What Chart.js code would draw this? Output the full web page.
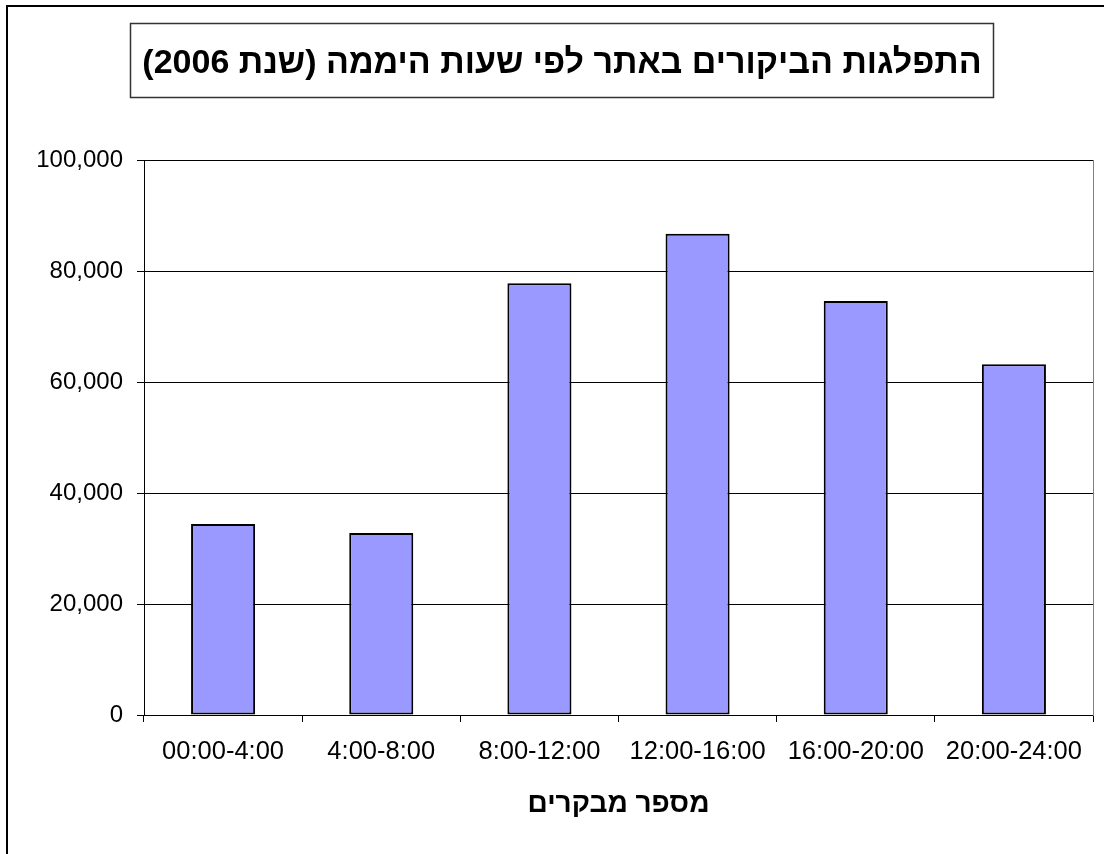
<!DOCTYPE html>
<html>
<head>
<meta charset="utf-8">
<script src="https://cdn.jsdelivr.net/npm/chart.js@4"></script>
<style>
  html, body { margin: 0; padding: 0; background: #fff; }
  canvas { display: block; }
</style>
</head>
<body>
<canvas id="myChart" width="1104" height="854" dir="rtl"></canvas>
<script>
const titleText = 'התפלגות הביקורים באתר לפי שעות היממה (שנת 2006)';
const axisTitle = 'מספר מבקרים';
const hours = ['00:00-4:00', '4:00-8:00', '8:00-12:00', '12:00-16:00', '16:00-20:00', '20:00-24:00'];
const visitors = [34400, 32800, 77800, 86700, 74600, 63200];
const yTicks = [0, 20000, 40000, 60000, 80000, 100000];

const fam = '"Liberation Sans", Arial, sans-serif';
const titleFont = { family: fam, size: 34, weight: 'bold' };

// outer frame + box round the title
const framePlugin = {
  id: 'frame',
  afterDraw(chart) {
    const c = chart.ctx;
    const t = chart.titleBlock;
    c.save();
    c.strokeStyle = '#000';
    c.lineWidth = 2;
    c.beginPath();
    c.moveTo(7, chart.height);
    c.lineTo(7, 6);
    c.lineTo(chart.width, 6);
    c.stroke();

    c.font = 'bold ' + titleFont.size + 'px ' + fam;
    const w = c.measureText(titleText).width;
    const cx = (t.left + t.right) / 2;
    c.lineWidth = 1.5;
    c.strokeStyle = '#333';
    c.strokeRect(Math.round(cx - w / 2 - 12) + 0.5, 23.5, Math.round(w + 24), 74);
    c.restore();
  }
};

const ctx = document.getElementById('myChart').getContext('2d');

const myChart = new Chart(ctx, {
  type: 'bar',
  data: {
    labels: hours,
    datasets: [{
      data: visitors,
      backgroundColor: '#9999ff',
      borderColor: '#000',
      borderWidth: 2,
      borderSkipped: false,
      barPercentage: 0.405,
      categoryPercentage: 1
    }]
  },
  options: {
    responsive: false,
    animation: false,
    locale: 'en-US',
    layout: { padding: { left: 31, right: 11, top: 0, bottom: 0 } },
    plugins: {
      legend: { display: false },
      tooltip: { enabled: false },
      title: {
        display: true,
        text: titleText,
        color: '#000',
        font: titleFont,
        padding: { top: 43.6, bottom: 75.6 }
      }
    },
    scales: {
      x: {
        grid: { drawOnChartArea: false, color: '#000', tickLength: 7 },
        border: { color: '#000' },
        ticks: { color: '#000', font: { family: fam, size: 25.5 }, padding: 15, maxRotation: 0, autoSkip: false },
        title: {
          display: true,
          text: axisTitle,
          color: '#000',
          font: { family: fam, size: 28, weight: 'bold' },
          padding: { top: 0, bottom: 33 }
        },
        afterFit(s) { s.height = 139; }
      },
      y: {
        min: yTicks[0],
        max: yTicks[yTicks.length - 1],
        grid: { color: '#000', tickLength: 7 },
        border: { color: '#000' },
        ticks: { color: '#000', font: { family: fam, size: 24 }, padding: 14 },
        afterBuildTicks(s) { s.ticks = yTicks.map(v => ({ value: v })); },
        afterFit(s) { s.width = 113; }
      },
      y2: {
        position: 'right',
        grid: { display: false },
        ticks: { display: false },
        border: { color: '#808080' },
        afterFit(s) { s.width = 0; }
      }
    }
  },
  plugins: [framePlugin]
});
</script>
</body>
</html>
